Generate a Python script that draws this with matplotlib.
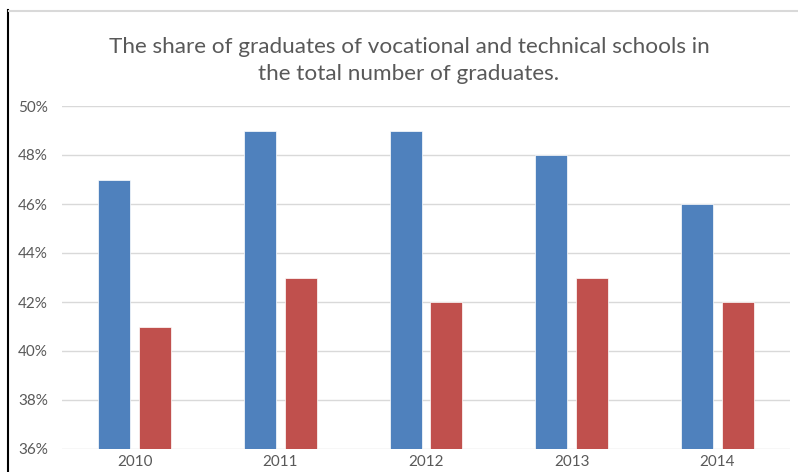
import matplotlib.pyplot as plt
import numpy as np
from matplotlib.lines import Line2D

years = ["2010", "2011", "2012", "2013", "2014"]
series_a = [0.47, 0.49, 0.49, 0.48, 0.46]
series_b = [0.41, 0.43, 0.42, 0.43, 0.42]
yticks = [0.36, 0.38, 0.40, 0.42, 0.44, 0.46, 0.48, 0.50]

plt.rcParams['font.family'] = ['Lato', 'DejaVu Sans']
text_color = '#595959'

fig = plt.figure(figsize=(7.98, 4.72), dpi=100)
ax = fig.add_axes([62 / 798, 23 / 472, 728 / 798, 343 / 472])

x = np.arange(len(years))
w = 0.22
ax.bar(x - 0.14, series_a, w, color='#4f81bd', edgecolor='white', linewidth=0.5, zorder=3)
ax.bar(x + 0.14, series_b, w, color='#c0504d', edgecolor='white', linewidth=0.5, zorder=3)

ax.set_xlim(-0.5, len(years) - 0.5)
ax.set_ylim(0.36, 0.50)
ax.set_yticks(yticks)
ax.set_yticklabels([f"{int(round(v * 100))}%" for v in yticks])
ax.set_xticks(x)
ax.set_xticklabels(years)
ax.tick_params(axis='both', length=0, colors=text_color, labelsize=11)
ax.tick_params(axis='y', pad=10)
ax.tick_params(axis='x', pad=4)
ax.grid(axis='y', color='#d9d9d9', linewidth=1, zorder=0)
for s in ax.spines.values():
    s.set_visible(False)

fig.text(409 / 798, 0.871,
         "The share of graduates of vocational and technical schools in\nthe total number of graduates.",
         ha='center', va='center', fontsize=16.2, color=text_color, linespacing=1.45)

# frame edges of the original chart area
fig.add_artist(Line2D([8 / 798, 8 / 798], [0, 462 / 472], color='black', linewidth=1.5))
fig.add_artist(Line2D([9 / 798, 1], [461 / 472, 461 / 472], color='#d9d9d9', linewidth=1.5))

fig.savefig('out.png', dpi=100)
